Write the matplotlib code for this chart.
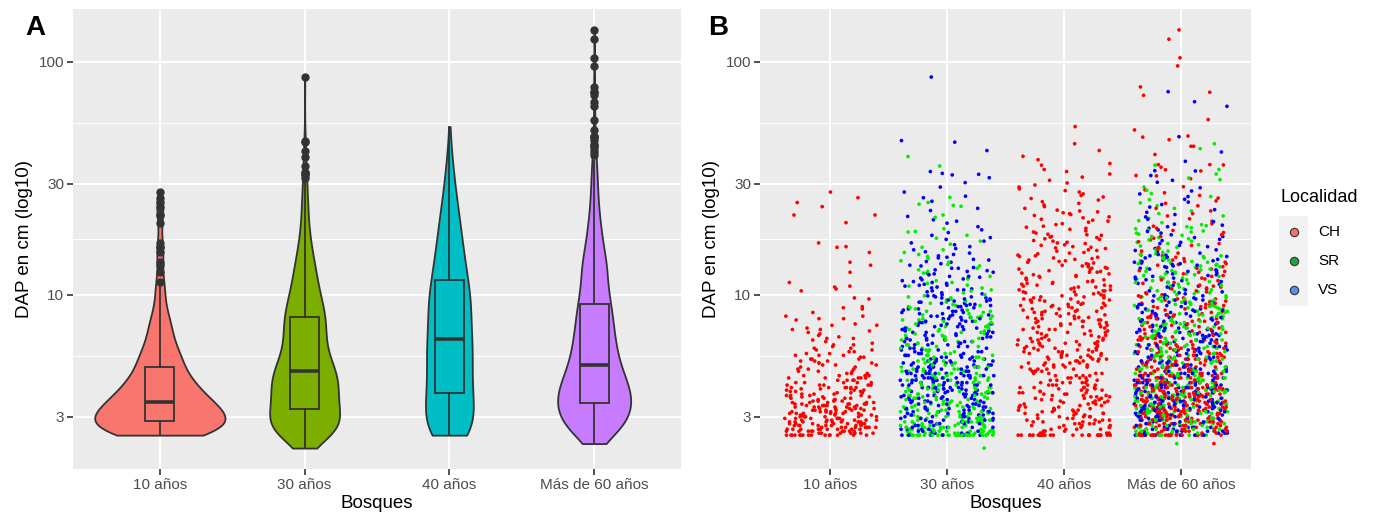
import numpy as np
import matplotlib.pyplot as plt
from matplotlib.lines import Line2D
from matplotlib.patches import Rectangle
from matplotlib.ticker import FixedLocator, NullFormatter

plt.rcParams['font.family'] = ['Liberation Sans', 'DejaVu Sans']

bosques = ['10 años', '30 años', '40 años', 'Más de 60 años']
localidades = ['CH', 'SR', 'VS']

# number of trees per DAP class: 0.5 mm classes 25.0..39.5 mm, then 1 mm classes 40..149 mm
ch10_freq = [15, 8, 9, 9, 9, 8, 8, 8, 7, 6, 7, 6, 7, 6, 6, 6, 6, 6, 6, 5,
             4, 3, 4, 4, 4, 3, 3, 3, 3, 3,
             6, 5, 5, 4, 5,
             4, 3, 3, 3, 2, 3, 3, 3, 3, 2,
             3, 2, 2, 2, 2, 1, 2, 1, 1, 1,
             2, 1, 1, 1, 1, 1, 2, 1, 0, 2,
             1, 0, 0, 1, 2, 0, 2, 0, 0, 1,
             0, 0, 1, 1, 1, 0, 0, 0, 0, 0,
             0, 1, 1, 0, 0,
             0, 0, 0, 0, 1, 0, 1, 0, 1, 1,
             0, 0, 0, 1, 0, 0, 0, 0, 0, 0,
             0, 0, 0, 0, 0, 1, 0, 0, 0, 0,
             0, 0, 0, 0, 1, 0, 0, 0, 1, 0,
             0, 0, 0, 0, 0, 0, 0, 0, 0, 0]
sr30_freq = [30, 10, 9, 8, 8, 7, 6, 6, 6, 5, 5, 5, 4, 4, 4, 3, 4, 3, 4, 3,
             3, 3, 3, 3, 3, 3, 3, 3, 3, 3,
             5, 5, 5, 5, 5,
             5, 5, 6, 4, 4, 3, 3, 3, 3, 3,
             3, 2, 2, 2, 2, 2, 2, 2, 2, 2,
             2, 2, 2, 2, 2, 2, 2, 2, 2, 2,
             2, 2, 2, 2, 2, 2, 2, 1, 1, 1,
             2, 1, 1, 1, 1, 2, 1, 1, 1, 1,
             1, 1, 1, 1, 1,
             1, 0, 1, 0, 1, 1, 0, 1, 0, 1,
             1, 0, 1, 1, 0, 1, 0, 1, 1, 0,
             1, 0, 1, 0, 1, 0, 1, 0, 1, 0,
             1, 0, 0, 1, 0, 1, 0, 0, 1, 0,
             1, 0, 0, 1, 0, 0, 1, 0, 0, 1]
vs30_freq = [6, 4, 4, 4, 4, 3, 4, 4, 4, 4, 4, 4, 4, 4, 4, 4, 4, 3, 4, 3,
             4, 3, 4, 3, 4, 3, 4, 3, 4, 3,
             7, 7, 7, 7, 7,
             7, 7, 6, 5, 5, 5, 5, 5, 4, 4,
             4, 3, 3, 3, 3, 3, 3, 3, 3, 3,
             3, 2, 3, 2, 3, 2, 3, 2, 3, 2,
             3, 2, 3, 2, 3, 2, 3, 2, 2, 2,
             2, 2, 2, 2, 2, 2, 2, 2, 2, 2,
             2, 2, 2, 2, 2,
             1, 1, 1, 1, 1, 2, 1, 1, 1, 1,
             2, 1, 1, 1, 1, 1, 1, 1, 1, 1,
             2, 0, 1, 1, 1, 1, 1, 1, 1, 0,
             2, 1, 0, 1, 1, 0, 1, 0, 1, 1,
             0, 1, 1, 0, 1, 1, 0, 1, 0, 1]
ch40_freq = [24, 4, 4, 4, 4, 4, 4, 4, 4, 3, 4, 3, 4, 3, 4, 3, 3, 3, 3, 3,
             3, 3, 3, 3, 3, 3, 3, 2, 3, 2,
             5, 5, 5, 4, 4,
             4, 4, 4, 4, 4, 4, 4, 4, 4, 4,
             4, 3, 4, 4, 4, 3, 4, 4, 3, 4,
             3, 2, 3, 2, 3, 2, 3, 2, 3, 2,
             3, 2, 3, 2, 3, 3, 2, 2, 2, 2,
             3, 2, 2, 2, 2, 3, 2, 2, 2, 2,
             3, 2, 2, 2, 2,
             2, 1, 2, 2, 2, 2, 1, 1, 2, 2,
             2, 1, 2, 1, 2, 1, 2, 1, 1, 1,
             2, 1, 1, 1, 1, 2, 1, 1, 1, 1,
             2, 1, 1, 1, 1, 1, 1, 1, 1, 1,
             1, 1, 1, 1, 1, 1, 1, 1, 1, 0]
ch60_freq = [25, 6, 6, 6, 6, 6, 6, 6, 6, 6, 7, 7, 7, 7, 7, 7, 7, 7, 7, 6,
             6, 6, 6, 6, 6, 5, 6, 5, 5, 5,
             10, 9, 9, 9, 8,
             8, 7, 6, 5, 6, 6, 5, 5, 5, 5,
             4, 4, 4, 4, 4, 3, 3, 3, 3, 3,
             3, 3, 2, 2, 2, 2, 2, 2, 2, 2,
             2, 2, 2, 2, 2, 2, 2, 2, 2, 1,
             1, 1, 1, 2, 2, 2, 1, 2, 1, 2,
             1, 2, 1, 1, 1,
             1, 1, 1, 1, 1, 0, 1, 1, 1, 1,
             1, 0, 1, 1, 0, 1, 1, 1, 1, 0,
             1, 1, 0, 1, 0, 1, 1, 1, 0, 1,
             1, 0, 1, 0, 1, 1, 1, 0, 1, 1,
             0, 1, 0, 1, 0, 1, 0, 1, 0, 1]
sr60_freq = [5, 4, 5, 4, 5, 4, 5, 4, 5, 4, 5, 4, 5, 4, 5, 4, 4, 4, 4, 4,
             4, 4, 4, 3, 4, 3, 4, 3, 4, 3,
             6, 6, 6, 5, 5,
             5, 4, 5, 4, 4, 4, 4, 4, 4, 4,
             4, 4, 3, 3, 3, 3, 3, 3, 3, 3,
             3, 3, 3, 3, 3, 3, 3, 3, 3, 3,
             3, 3, 2, 2, 2, 2, 2, 2, 2, 2,
             2, 2, 2, 2, 2, 2, 2, 2, 2, 2,
             2, 2, 2, 2, 2,
             1, 1, 1, 2, 1, 1, 1, 1, 2, 1,
             1, 1, 1, 2, 1, 1, 1, 1, 2, 1,
             1, 1, 1, 2, 1, 1, 1, 1, 1, 1,
             1, 1, 1, 1, 1, 1, 1, 1, 1, 1,
             1, 1, 1, 1, 1, 1, 1, 1, 1, 1]
vs60_freq = [6, 4, 5, 4, 5, 4, 5, 4, 5, 4, 5, 4, 5, 4, 5, 5, 6, 5, 5, 4,
             5, 4, 4, 4, 4, 4, 4, 3, 4, 3,
             7, 7, 6, 6, 6,
             5, 5, 4, 5, 4, 4, 4, 4, 3, 3,
             3, 3, 3, 3, 3, 3, 3, 3, 3, 3,
             2, 2, 3, 3, 3, 3, 2, 2, 2, 2,
             2, 2, 2, 2, 2, 2, 2, 2, 2, 2,
             2, 2, 2, 1, 2, 1, 2, 1, 2, 1,
             2, 1, 2, 1, 2,
             1, 1, 1, 1, 1, 1, 1, 1, 1, 1,
             1, 1, 1, 1, 1, 1, 1, 1, 1, 1,
             1, 1, 1, 1, 1, 1, 1, 1, 1, 1,
             1, 1, 1, 1, 1, 1, 1, 1, 1, 1,
             1, 1, 1, 1, 1, 1, 1, 1, 1, 1]

# single trees outside those classes (DAP in mm)
ch10_other_mm = [152, 160, 161, 167, 204, 220, 220, 239, 249, 261, 276]
sr30_other_mm = [22, 152, 156, 160, 165, 170, 175, 180, 186, 187, 192,
                 215, 220, 240, 242, 245, 249, 262, 357, 392]
vs30_other_mm = [151, 153, 156, 158, 161, 164, 167, 170, 173, 176, 180, 185, 190, 196,
                 203, 207, 210, 217, 230, 235, 252, 261, 265, 276, 290,
                 303, 318, 327, 329, 332, 338, 416, 452, 459, 860]
ch40_other_mm = [150, 151, 152, 154, 155, 156, 158, 159, 160, 161, 163, 164, 166, 167,
                 168, 170, 171, 173, 174, 176, 177, 178, 180, 181, 182, 184,
                 186, 188, 191, 193, 195, 197, 200, 202, 205, 207, 209, 211, 214, 216,
                 219, 221, 223, 225, 227, 229, 231, 235, 239, 243, 247, 251, 255, 259,
                 263, 267, 271, 276, 280, 285, 290, 296, 302, 310, 320, 330, 338, 345,
                 360, 366, 380, 393, 416, 445, 527]
ch60_other_mm = [23, 151, 154, 157, 160, 163, 166, 169, 172, 175, 178, 181, 185, 189,
                 193, 197, 202, 207, 212, 218, 223, 229, 235, 241, 247, 253, 260, 267,
                 274, 282, 291, 315, 324, 325, 340, 344, 353, 361, 362, 362, 400, 434,
                 434, 463, 475, 480, 510, 565, 718, 740, 780, 960, 1040, 1250, 1370]
sr60_other_mm = [23, 150, 152, 154, 156, 158, 160, 162, 164, 166, 168, 170, 172, 174,
                 176, 178, 180, 182, 184, 186, 188, 190, 192, 194, 196, 198,
                 200, 204, 208, 213, 218, 223, 229, 235, 241, 248, 256, 264, 272, 281,
                 290, 312, 317, 330, 345, 360, 424, 445]
vs60_other_mm = [151, 153, 155, 156, 158, 161, 163, 166, 168, 171, 173, 176, 178, 181,
                 184, 187, 190, 193, 196, 199, 201, 206, 211, 216, 221, 226, 232, 238,
                 244, 250, 257, 264, 271, 279, 288, 304, 310, 325, 340, 341, 374, 410,
                 477, 644, 674, 744]

violin_colors = ['#F8766D', '#7CAE00', '#00BFC4', '#C77CFF']
point_colors = {'CH': '#FF0000', 'SR': '#00EE00', 'VS': '#0000FF'}
key_colors = {'CH': '#F0726B', 'SR': '#22A33C', 'VS': '#5B8DEB'}

mm_classes = np.concatenate([np.arange(25, 40, 0.5), np.arange(40, 150)])


def dap_cm(freq, other_mm):
    return np.concatenate([np.repeat(mm_classes, freq), other_mm]) / 10.0


groups = [
    [('CH', dap_cm(ch10_freq, ch10_other_mm))],
    [('SR', dap_cm(sr30_freq, sr30_other_mm)), ('VS', dap_cm(vs30_freq, vs30_other_mm))],
    [('CH', dap_cm(ch40_freq, ch40_other_mm))],
    [('CH', dap_cm(ch60_freq, ch60_other_mm)), ('SR', dap_cm(sr60_freq, sr60_other_mm)),
     ('VS', dap_cm(vs60_freq, vs60_other_mm))],
]
all_vals = [np.concatenate([v for _, v in g]) for g in groups]

W, H = 1375, 512
fig = plt.figure(figsize=(W / 100, H / 100), dpi=100)
axA = fig.add_axes([73 / W, 1 - 469 / H, (681 - 73) / W, (469 - 9) / H])
axB = fig.add_axes([760 / W, 1 - 469 / H, (1251 - 760) / W, (469 - 9) / H])

lo = np.log10(min(v.min() for v in all_vals))
hi = np.log10(max(v.max() for v in all_vals))
pad = 0.05 * (hi - lo)

# panel A: violins (gaussian kde on log10 scale, nrd0 bandwidth, area scaling)
dens_list = []
for vals in all_vals:
    lv = np.log10(vals)
    n = len(lv)
    q1, q3 = np.percentile(lv, [25, 75])
    bw = 0.9 * min(lv.std(ddof=1), (q3 - q1) / 1.34) * n ** -0.2
    grid = np.linspace(lv.min(), lv.max(), 512)
    d = np.exp(-0.5 * ((grid[:, None] - lv[None, :]) / bw) ** 2).sum(1) / (n * bw * np.sqrt(2 * np.pi))
    dens_list.append((grid, d))
dmax = max(d.max() for _, d in dens_list)

for i, (grid, d) in enumerate(dens_list):
    half = d / dmax * 0.45
    axA.fill_betweenx(10 ** grid, i - half, i + half, facecolor=violin_colors[i],
                      edgecolor='#333333', linewidth=1.3, zorder=2)

stats = []
for vals in all_vals:
    lv = np.log10(vals)
    q1, med, q3 = np.percentile(lv, [25, 50, 75])
    iqr = q3 - q1
    inside = lv[(lv >= q1 - 1.5 * iqr) & (lv <= q3 + 1.5 * iqr)]
    out = lv[(lv < q1 - 1.5 * iqr) | (lv > q3 + 1.5 * iqr)]
    stats.append(dict(med=10 ** med, q1=10 ** q1, q3=10 ** q3,
                      whislo=10 ** inside.min(), whishi=10 ** inside.max(), fliers=10 ** out))

bp = axA.bxp(stats, positions=range(4), widths=0.2, patch_artist=True, showcaps=False,
             manage_ticks=False,
             boxprops=dict(edgecolor='#333333', linewidth=1.3),
             whiskerprops=dict(color='#333333', linewidth=1.3),
             medianprops=dict(color='#333333', linewidth=2.6),
             flierprops=dict(marker='o', markerfacecolor='#333333', markeredgecolor='#333333',
                             markersize=5))
for patch, c in zip(bp['boxes'], violin_colors):
    patch.set_facecolor(c)
for k in bp:
    for art in bp[k]:
        art.set_zorder(3)

# panel B: points with horizontal jitter (as geom_jitter, width 0.4)
rng = np.random.default_rng(7)
for i, g in enumerate(groups):
    vals = np.concatenate([v for _, v in g])
    cols = np.concatenate([[point_colors[loc]] * len(v) for loc, v in g])
    order = rng.permutation(len(vals))
    vals, cols = vals[order], cols[order]
    x = i + rng.uniform(-0.4, 0.4, len(vals))
    axB.scatter(x, vals, s=7, c=cols, linewidths=0, zorder=2)

for ax in (axA, axB):
    ax.set_facecolor('#EBEBEB')
    ax.set_yscale('log')
    ax.set_ylim(10 ** (lo - pad), 10 ** (hi + pad))
    ax.set_xlim(-0.6, 3.6)
    ax.set_yticks([3, 10, 30, 100])
    ax.set_yticklabels(['3', '10', '30', '100'])
    ax.yaxis.set_minor_locator(FixedLocator([np.sqrt(30), np.sqrt(300), np.sqrt(3000)]))
    ax.yaxis.set_minor_formatter(NullFormatter())
    ax.set_xticks(range(4))
    ax.set_xticklabels(bosques)
    ax.grid(which='major', color='white', linewidth=1.4)
    ax.grid(which='minor', axis='y', color='white', linewidth=0.7)
    ax.set_axisbelow(True)
    for s in ax.spines.values():
        s.set_visible(False)
    ax.tick_params(which='major', color='#333333', length=4, width=1.2,
                   labelcolor='#4D4D4D', labelsize=11, pad=2.5)
    ax.tick_params(which='minor', length=0)
    ax.set_xlabel('Bosques', fontsize=13.5, labelpad=2)
    ax.set_ylabel('DAP en cm (log10)', fontsize=13.5, labelpad=4)

# legend
fig.text(1280 / W, 1 - 198 / H, 'Localidad', fontsize=13, va='center', ha='left')
fig.patches.append(Rectangle((1279 / W, 1 - 306 / H), 29 / W, 90 / H,
                             transform=fig.transFigure, facecolor='#F2F2F2', edgecolor='none'))
for j, loc in enumerate(localidades):
    yk = 1 - (232 + 29 * j) / H
    fig.add_artist(Line2D([1294 / W], [yk], marker='o', markersize=6, linestyle='none',
                          markerfacecolor=key_colors[loc], markeredgecolor='#333333',
                          markeredgewidth=0.8, transform=fig.transFigure))
    fig.text(1318 / W, yk, loc, fontsize=11, va='center', ha='left')

fig.text(25 / W, 1 - 28 / H, 'A', fontsize=20, fontweight='bold', va='center', ha='left')
fig.text(708 / W, 1 - 28 / H, 'B', fontsize=20, fontweight='bold', va='center', ha='left')

fig.savefig('out.png', dpi=100)
